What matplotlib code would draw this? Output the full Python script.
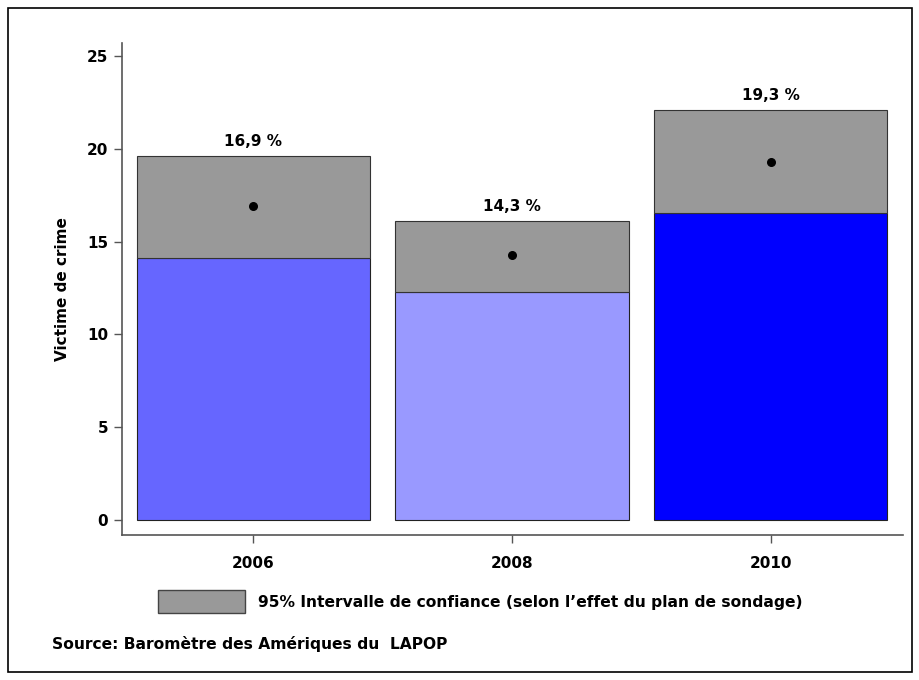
import matplotlib
matplotlib.use("Agg")
import matplotlib.pyplot as plt
from matplotlib.patches import Rectangle

plt.rcParams['font.family'] = ['DejaVu Sans']

years = ["2006", "2008", "2010"]
means = [16.9, 14.3, 19.3]
ci_low = [14.1, 12.3, 16.55]
ci_high = [19.6, 16.1, 22.1]
bar_colors = ["#6666FF", "#9999FF", "#0000FF"]
ci_color = "#999999"
yticks = [0, 5, 10, 15, 20, 25]

fig = plt.figure(figsize=(9.2, 6.8), dpi=100)
ax = fig.add_axes([122 / 920, 1 - 535 / 680, (903 - 122) / 920, (535 - 43) / 680])

x = list(range(len(years)))
width = 0.9
ax.bar(x, ci_low, width=width, color=bar_colors, edgecolor="#222222", linewidth=0.8, zorder=2)
ax.bar(x, [h - l for h, l in zip(ci_high, ci_low)], bottom=ci_low, width=width,
       color=ci_color, edgecolor="#333333", linewidth=0.8, zorder=2)
ax.scatter(x, means, s=30, color="black", zorder=3)

for xi, m, h in zip(x, means, ci_high):
    ax.annotate(f"{m:.1f} %".replace(".", ","), (xi, h), xytext=(0, 5),
                textcoords="offset points", ha="center", va="bottom",
                fontsize=11, fontweight="bold")

ax.set_xlim(-0.506, 2.51)
ax.set_ylim(-0.8, 25.7)
ax.set_xticks(x)
ax.set_xticklabels(years, fontsize=11, fontweight="bold")
ax.set_yticks(yticks)
ax.set_yticklabels([str(t) for t in yticks], fontsize=11, fontweight="bold")
ax.tick_params(axis="both", color="#555555", length=6, width=1)
ax.tick_params(axis="x", pad=9)
ax.tick_params(axis="y", pad=4)
for side in ("top", "right"):
    ax.spines[side].set_visible(False)
for side in ("left", "bottom"):
    ax.spines[side].set_color("#555555")
    ax.spines[side].set_linewidth(1.2)
ax.set_ylabel("Victime de crime", fontsize=11, fontweight="bold", labelpad=12)

# Legend key for the confidence band
fig.patches.append(Rectangle((158 / 920, 1 - 613 / 680), 87 / 920, 23 / 680,
                             transform=fig.transFigure, facecolor=ci_color,
                             edgecolor="#444444", linewidth=1))
fig.text(258 / 920, 1 - 602 / 680,
         "95% Intervalle de confiance (selon l\u2019effet du plan de sondage)",
         fontsize=11.2, fontweight="bold", va="center", ha="left")
fig.text(52 / 920, 1 - 644 / 680, "Source: Barom\u00e8tre des Am\u00e9riques du  LAPOP",
         fontsize=11.2, fontweight="bold", va="center", ha="left")

# Outer frame
fig.patches.append(Rectangle((8 / 920, 8 / 680), 904 / 920, 664 / 680,
                             transform=fig.transFigure, facecolor="none",
                             edgecolor="black", linewidth=1.2))

fig.savefig("out.png", dpi=100)
